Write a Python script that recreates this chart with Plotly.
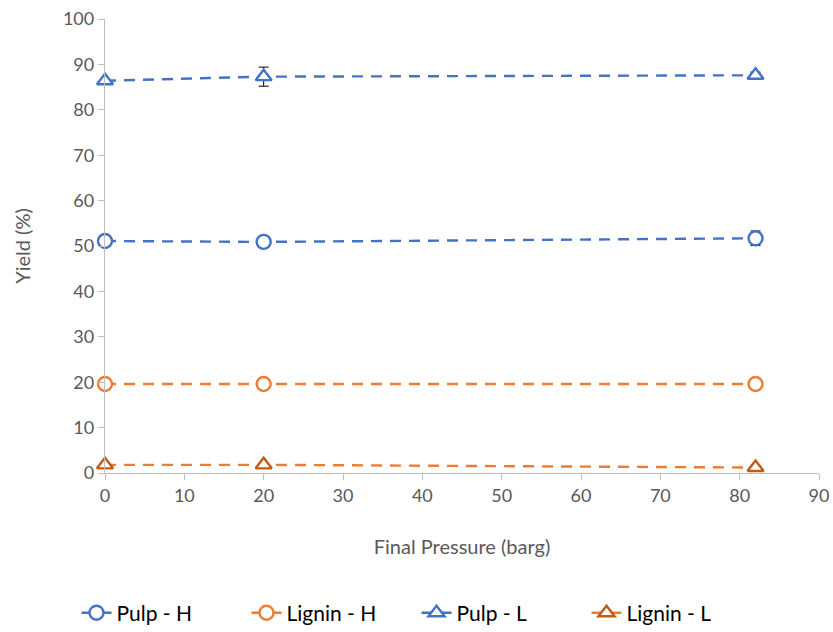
import plotly.graph_objects as go

pressure = [0, 20, 82]
pulp_h = [51.1, 50.9, 51.7]
pulp_h_err = [0.3, 0.3, 1.6]
lignin_h = [19.6, 19.6, 19.6]
lignin_h_err = [0.3, 0.2, 0.2]
pulp_l = [86.4, 87.3, 87.6]
pulp_l_err = [0.4, 2.1, 0.7]
lignin_l = [1.8, 1.8, 1.2]
lignin_l_err = [0.2, 0.3, 0.4]

series = [
    ("Pulp - H", pulp_h, pulp_h_err, "#4472C4", "#4472C4", "circle"),
    ("Lignin - H", lignin_h, lignin_h_err, "#ED7D31", "#ED7D31", "circle"),
    ("Pulp - L", pulp_l, pulp_l_err, "#4472C4", "#4472C4", "triangle-up"),
    ("Lignin - L", lignin_l, lignin_l_err, "#ED7D31", "#C55A11", "triangle-up"),
]

fig = go.Figure()
for name, ys, err, lc, mc, sym in series:
    fig.add_trace(go.Scatter(
        x=pressure, y=ys, name=name, mode="lines+markers", cliponaxis=False,
        line=dict(color=lc, width=2.4, dash="11px,8px"),
        marker=dict(symbol=sym, size=14, color="white", line=dict(color=mc, width=2.4)),
        error_y=dict(type="data", array=err, visible=True, color="black", thickness=1, width=5),
    ))

axis_common = dict(
    showgrid=False, zeroline=False, showline=True, linecolor="#BFBFBF", linewidth=1.3,
    ticks="outside", tickcolor="#BFBFBF", ticklen=6, automargin=False,
    tickfont=dict(family="Lato, sans-serif", size=18, color="#595959"),
)
fig.update_layout(
    width=833, height=632,
    margin=dict(l=105, r=14, t=19, b=159, autoexpand=False),
    plot_bgcolor="white", paper_bgcolor="white",
    font=dict(family="Lato, sans-serif", color="#595959"),
    xaxis=dict(range=[0, 90], dtick=10, title=dict(text="Final Pressure (barg)", font=dict(size=20, color="#595959"), standoff=35), **axis_common),
    yaxis=dict(range=[0, 100], dtick=10, title=dict(text="Yield (%)", font=dict(size=20, color="#595959"), standoff=26), **axis_common),
    legend=dict(orientation="h", xref="container", yref="container", x=0.5, xanchor="center",
                y=0.03, yanchor="middle",
                entrywidth=125, entrywidthmode="pixels",
                font=dict(size=21, color="black"), traceorder="normal"),
    showlegend=True,
)
fig.write_html("out.html")
